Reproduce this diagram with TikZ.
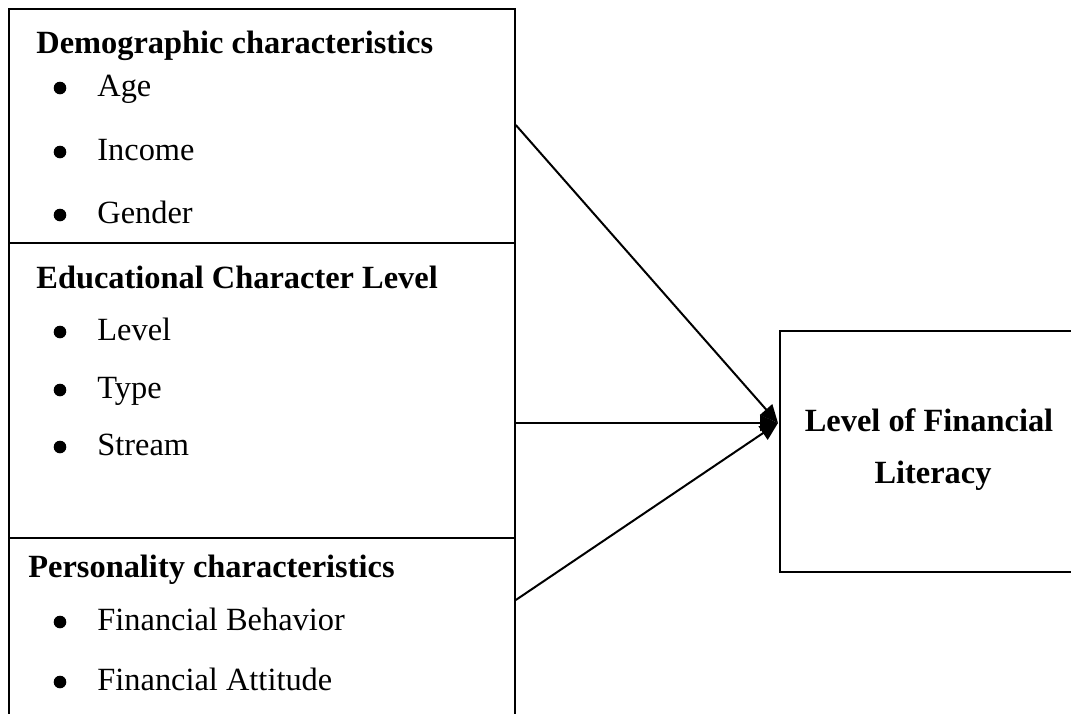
\documentclass[tikz,border=0pt]{standalone}
\usepackage{fontspec}
\setmainfont{Liberation Serif}
\usetikzlibrary{arrows.meta,calc}
\begin{document}
\begin{tikzpicture}[x=0.5pt,y=-0.5pt,
  box/.style={draw,line width=0.9pt,rectangle,inner sep=0pt,anchor=north west},
  ttl/.style={anchor=base west,font=\fontsize{16.2}{19}\selectfont\bfseries,inner sep=0pt},
  itm/.style={anchor=base west,font=\fontsize{16.2}{19}\selectfont,inner sep=0pt},
  res/.style={anchor=base,font=\fontsize{16.2}{19}\selectfont\bfseries,inner sep=0pt},
  bul/.style={circle,fill,inner sep=0pt,minimum size=6.3pt},
  conn/.style={line width=1pt,-{Triangle[length=9pt,width=8pt]}}]
\useasboundingbox (0,0) rectangle (1071,713);
% left boxes
\node[box,minimum width=253pt,minimum height=117pt] (demo) at (8,8) {};
\node[box,minimum width=253pt,minimum height=147.5pt] (edu) at (8,242) {};
\node[box,minimum width=253pt,minimum height=100pt] (pers) at (8,537) {};
% right box
\node[box,minimum width=160pt,minimum height=120.5pt] (lit) at (779,330) {};
% texts
\node[ttl] (t1) at (36,53) {Demographic characteristics};
\node[bul] (b1) at (60,88) {};  \node[itm] (i1) at (97,96) {Age};
\node[bul] (b2) at (60,152) {}; \node[itm] (i2) at (97,160) {Income};
\node[bul] (b3) at (60,215) {}; \node[itm] (i3) at (97,223) {Gender};
\node[ttl] (t2) at (36,288) {Educational Character Level};
\node[bul] (b4) at (60,332) {}; \node[itm] (i4) at (97,340) {Level};
\node[bul] (b5) at (60,390) {}; \node[itm] (i5) at (97,398) {Type};
\node[bul] (b6) at (60,447) {}; \node[itm] (i6) at (97,455) {Stream};
\node[ttl] (t3) at (28,577) {Personality characteristics};
\node[bul] (b7) at (60,622) {}; \node[itm] (i7) at (97,630) {Financial Behavior};
\node[bul] (b8) at (60,682) {}; \node[itm] (i8) at (97,690) {Financial Attitude};
\node[res] (l1) at (929,431) {Level of Financial};
\node[res] (l2) at (933,483) {Literacy};
% connectors
\coordinate (tip) at ($(lit.north west)+(-1,93)$);
\draw[conn] ($(demo.north east)+(0,117)$) -- (tip);
\draw[conn] (edu.east |- tip) -- (tip);
\draw[conn] ($(pers.north east)+(0,63)$) -- (tip);
\end{tikzpicture}
\end{document}
